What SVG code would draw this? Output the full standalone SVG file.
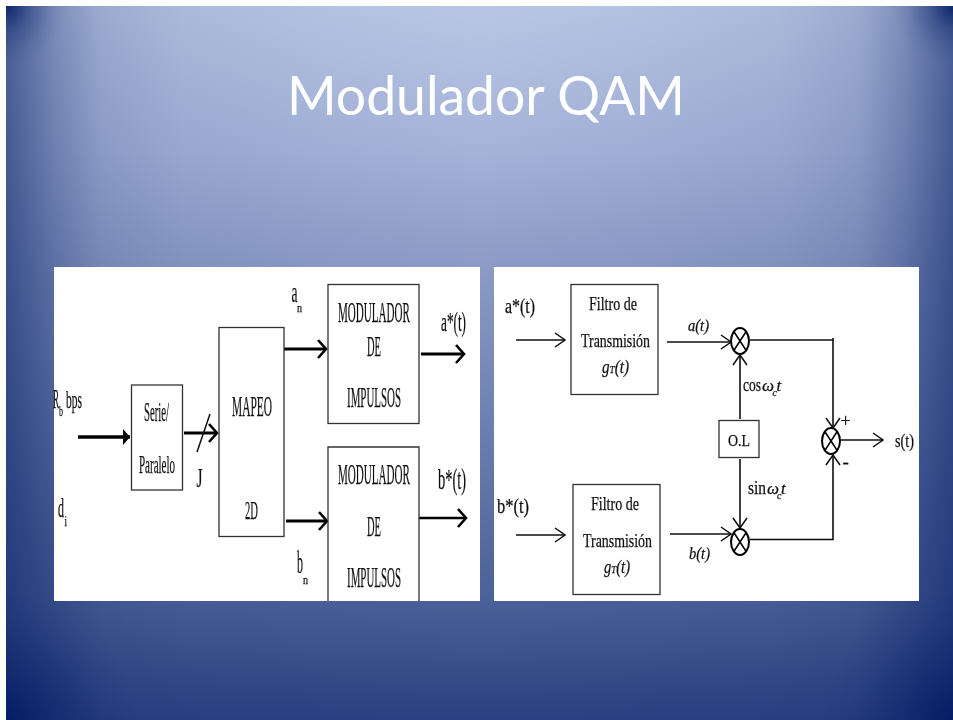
<svg xmlns="http://www.w3.org/2000/svg" width="953" height="720" viewBox="0 0 953 720">
<style>
.t{font-family:"Liberation Serif","Times New Roman",serif;fill:#111;stroke:#111;stroke-width:.25}
.i{font-style:italic}
.b{fill:#fff;stroke:#333;stroke-width:1.3}
.c{fill:none;stroke:#111;stroke-width:1.6}
.h{fill:none;stroke:#000;stroke-width:3}
.o{fill:none;stroke:#111;stroke-width:1.5}
.x{fill:#fff;stroke:#000;stroke-width:2}
</style>
<defs>
<linearGradient id="bgv" x1="0" y1="0" x2="0" y2="1">
<stop offset="0" stop-color="#b9c7e5"/>
<stop offset="0.2" stop-color="#a4b3d8"/>
<stop offset="0.36" stop-color="#8c9cc6"/>
<stop offset="0.84" stop-color="#4a5f98"/>
<stop offset="1" stop-color="#2a4080"/>
</linearGradient>
<linearGradient id="bgh" gradientUnits="userSpaceOnUse" x1="6" y1="0" x2="953" y2="0">
<stop offset="0" stop-color="#0a2268" stop-opacity=".62"/>
<stop offset="0.05" stop-color="#0a2268" stop-opacity=".36"/>
<stop offset="0.1" stop-color="#0a2268" stop-opacity=".17"/>
<stop offset="0.185" stop-color="#0a2268" stop-opacity=".08"/>
<stop offset="0.34" stop-color="#0a2268" stop-opacity=".03"/>
<stop offset="0.5" stop-color="#0a2268" stop-opacity="0"/>
<stop offset="0.66" stop-color="#0a2268" stop-opacity=".03"/>
<stop offset="0.815" stop-color="#0a2268" stop-opacity=".08"/>
<stop offset="0.9" stop-color="#0a2268" stop-opacity=".17"/>
<stop offset="0.95" stop-color="#0a2268" stop-opacity=".36"/>
<stop offset="1" stop-color="#0a2268" stop-opacity=".62"/>
</linearGradient>
<radialGradient id="corner">
<stop offset="0" stop-color="#001a62" stop-opacity=".8"/>
<stop offset="0.4" stop-color="#001a62" stop-opacity=".3"/>
<stop offset="0.75" stop-color="#001a62" stop-opacity=".07"/>
<stop offset="1" stop-color="#001a62" stop-opacity="0"/>
</radialGradient>
<filter id="soft" x="0" y="0" width="1" height="1"><feGaussianBlur stdDeviation="0.4"/></filter>
<marker id="oa" viewBox="0 0 12 16" refX="11" refY="8" markerWidth="12" markerHeight="16" markerUnits="userSpaceOnUse" orient="auto"><path d="M1 1L11 8L1 15" fill="none" stroke="#111" stroke-width="1.5"/></marker>
<marker id="ha" viewBox="0 0 14 20" refX="12" refY="10" markerWidth="14" markerHeight="20" markerUnits="userSpaceOnUse" orient="auto"><path d="M4 1L12 10L4 19" fill="none" stroke="#000" stroke-width="2.6"/></marker>
<marker id="fa" viewBox="0 0 8 16" refX="7" refY="8" markerWidth="8" markerHeight="16" markerUnits="userSpaceOnUse" orient="auto"><path d="M0 0L7 8L0 16z" fill="#000"/></marker>
<clipPath id="slide"><rect x="6" y="6" width="947" height="714"/></clipPath>
</defs>
<rect width="953" height="720" fill="#fff"/>
<g id="background" clip-path="url(#slide)">
<rect x="6" y="6" width="947" height="714" fill="url(#bgv)"/>
<rect x="6" y="6" width="947" height="714" fill="url(#bgh)"/>
<ellipse cx="6" cy="6" rx="60" ry="60" fill="url(#corner)"/>
<ellipse cx="953" cy="6" rx="60" ry="60" fill="url(#corner)"/>
<ellipse cx="6" cy="720" rx="130" ry="130" fill="url(#corner)"/>
<ellipse cx="953" cy="720" rx="130" ry="130" fill="url(#corner)"/>
</g>
<text id="title" x="287" y="115" textLength="398" lengthAdjust="spacingAndGlyphs" font-family="Lato,'Open Sans',sans-serif" font-size="54" fill="#fff">Modulador QAM</text>
<rect id="panel-left" x="54" y="267" width="426" height="334" fill="#fff"/>
<rect id="panel-right" x="494" y="267" width="425" height="334" fill="#fff"/>

<g id="diagram" filter="url(#soft)">
<g id="connectors">
<path class="h" d="M78 437H130" marker-end="url(#fa)" style="stroke-width:3.6"/>
<path class="h" d="M184 433H217" marker-end="url(#ha)"/>
<path class="o" d="M210 414L197 452"/>
<path class="h" d="M284 349H326" marker-end="url(#ha)"/>
<path class="h" d="M286 521H327" marker-end="url(#ha)"/>
<path class="h" d="M421 354H464" marker-end="url(#ha)"/>
<path class="h" d="M419 518H466" style="stroke-width:2.4" marker-end="url(#ha)"/>
<path class="c" d="M516 340H565" marker-end="url(#oa)"/>
<path class="c" d="M516 535H565" marker-end="url(#oa)"/>
<path class="c" d="M667 342H731" marker-end="url(#oa)"/>
<path class="c" d="M670 534H731" marker-end="url(#oa)"/>
<path class="c" d="M740 419V355" marker-end="url(#oa)"/>
<path class="c" d="M740 459V528" marker-end="url(#oa)"/>
<path class="c" d="M750 340H833"/>
<path class="c" d="M833 338V428" marker-end="url(#oa)"/>
<path class="c" d="M750 539.5H833V455" marker-end="url(#oa)"/>
<path class="c" d="M841 440H883" marker-end="url(#oa)"/>
</g>

<g id="label-rb">
<text class="t" x="53" y="408" font-size="28" textLength="6" lengthAdjust="spacingAndGlyphs">R</text>
<text class="t" x="59" y="416" font-size="15" textLength="4" lengthAdjust="spacingAndGlyphs">b</text>
<text class="t" x="66" y="408" font-size="26" textLength="16" lengthAdjust="spacingAndGlyphs">bps</text>
</g>
<g id="label-di">
<text class="t" x="58" y="517" font-size="27" textLength="6" lengthAdjust="spacingAndGlyphs">d</text>
<text class="t" x="64.5" y="526" font-size="14" textLength="2.5" lengthAdjust="spacingAndGlyphs">i</text>
</g>
<g id="serie-paralelo">
<rect class="b" x="131.5" y="385" width="51" height="105"/>
<text class="t" x="144" y="421" font-size="27" textLength="25" lengthAdjust="spacingAndGlyphs">Serie/</text>
<text class="t" x="139" y="473" font-size="26" textLength="36" lengthAdjust="spacingAndGlyphs">Paralelo</text>
</g>
<text id="label-j" class="t" x="196.5" y="487" font-size="27" textLength="6" lengthAdjust="spacingAndGlyphs">J</text>
<g id="mapeo">
<rect class="b" x="219" y="327.5" width="65" height="209"/>
<text class="t" x="232" y="416" font-size="29" textLength="40" lengthAdjust="spacingAndGlyphs">MAPEO</text>
<text class="t" x="245" y="519" font-size="26" textLength="13" lengthAdjust="spacingAndGlyphs">2D</text>
</g>
<g id="label-an">
<text class="t" x="291.5" y="302" font-size="29" textLength="6" lengthAdjust="spacingAndGlyphs">a</text>
<text class="t" x="297" y="312" font-size="13" textLength="5" lengthAdjust="spacingAndGlyphs">n</text>
</g>
<g id="label-bn">
<text class="t" x="297" y="573" font-size="32" textLength="6" lengthAdjust="spacingAndGlyphs">b</text>
<text class="t" x="303" y="584" font-size="13" textLength="5" lengthAdjust="spacingAndGlyphs">n</text>
</g>
<g id="modulador-a">
<rect class="b" x="328" y="284.5" width="91" height="139"/>
<text class="t" x="338" y="322" font-size="29" textLength="72" lengthAdjust="spacingAndGlyphs">MODULADOR</text>
<text class="t" x="367" y="356" font-size="29" textLength="14" lengthAdjust="spacingAndGlyphs">DE</text>
<text class="t" x="347" y="407" font-size="29" textLength="54" lengthAdjust="spacingAndGlyphs">IMPULSOS</text>
</g>
<g id="modulador-b">
<path class="b" d="M328 601V447H419V601"/>
<text class="t" x="338" y="484" font-size="29" textLength="72" lengthAdjust="spacingAndGlyphs">MODULADOR</text>
<text class="t" x="367" y="536" font-size="29" textLength="14" lengthAdjust="spacingAndGlyphs">DE</text>
<text class="t" x="347" y="587" font-size="29" textLength="54" lengthAdjust="spacingAndGlyphs">IMPULSOS</text>
</g>
<text id="label-as-l" class="t" x="441" y="331" font-size="28" textLength="25" lengthAdjust="spacingAndGlyphs">a*(t)</text>
<text id="label-bs-l" class="t" x="438" y="489" font-size="30" textLength="28" lengthAdjust="spacingAndGlyphs">b*(t)</text>

<text id="label-as-r" class="t" x="505" y="313" font-size="20" textLength="30" lengthAdjust="spacingAndGlyphs">a*(t)</text>
<text id="label-bs-r" class="t" x="497" y="513" font-size="20" textLength="32" lengthAdjust="spacingAndGlyphs">b*(t)</text>
<g id="filtro-a">
<rect class="b" x="571" y="284.5" width="87" height="110"/>
<text class="t" x="589" y="310" font-size="19" textLength="48" lengthAdjust="spacingAndGlyphs">Filtro de</text>
<text class="t" x="581" y="347" font-size="19" textLength="69" lengthAdjust="spacingAndGlyphs">Transmisión</text>
<text class="t i" x="602" y="373" font-size="18" textLength="27" lengthAdjust="spacingAndGlyphs">g<tspan font-size="11">T</tspan>(t)</text>
</g>
<g id="filtro-b">
<rect class="b" x="573" y="484.5" width="87" height="110"/>
<text class="t" x="591" y="510" font-size="19" textLength="48" lengthAdjust="spacingAndGlyphs">Filtro de</text>
<text class="t" x="583" y="547" font-size="19" textLength="69" lengthAdjust="spacingAndGlyphs">Transmisión</text>
<text class="t i" x="604" y="573" font-size="18" textLength="26" lengthAdjust="spacingAndGlyphs">g<tspan font-size="11">T</tspan>(t)</text>
</g>
<text id="label-at" class="t i" x="688" y="331" font-size="17" textLength="21" lengthAdjust="spacingAndGlyphs">a(t)</text>
<text id="label-bt" class="t i" x="689" y="559" font-size="17" textLength="21" lengthAdjust="spacingAndGlyphs">b(t)</text>
<g id="mult-a">
<ellipse class="x" cx="740" cy="341" rx="9" ry="13"/>
<path class="o" d="M733.5 331L746.500 351M746.500 331L733.500 351" style="stroke:#000"/>
</g>
<g id="mult-b">
<ellipse class="x" cx="740" cy="542" rx="9" ry="13"/>
<path class="o" d="M733.5 532L746.500 552M746.500 532L733.500 552" style="stroke:#000"/>
</g>
<g id="sum">
<ellipse class="x" cx="831" cy="441" rx="9" ry="13"/>
<path class="o" d="M824.5 431L837.500 451M837.500 431L824.500 451" style="stroke:#000"/>
</g>
<g id="ol">
<rect class="b" x="719" y="420.5" width="40" height="37"/>
<text class="t" x="728" y="446" font-size="17" textLength="22" lengthAdjust="spacingAndGlyphs">O.L</text>
</g>
<g id="label-cos">
<text class="t" x="743" y="391" font-size="19" textLength="18" lengthAdjust="spacingAndGlyphs">cos</text>
<text class="t i" x="762" y="391" font-size="17">ω</text>
<text class="t i" x="772.5" y="396" font-size="10">c</text>
<text class="t i" x="776.500" y="391" font-size="17">t</text>
</g>
<g id="label-sin">
<text class="t" x="748" y="494" font-size="19" textLength="18" lengthAdjust="spacingAndGlyphs">sin</text>
<text class="t i" x="767" y="494" font-size="17">ω</text>
<text class="t i" x="777" y="499" font-size="10">c</text>
<text class="t i" x="781" y="494" font-size="17">t</text>
</g>
<text id="plus" class="t" x="840.5" y="427" font-size="18">+</text>
<text id="minus" class="t" x="842.5" y="468" font-size="19">-</text>
<text id="label-st" class="t" x="895" y="447" font-size="19" textLength="19" lengthAdjust="spacingAndGlyphs">s(t)</text>
</g>
</svg>
